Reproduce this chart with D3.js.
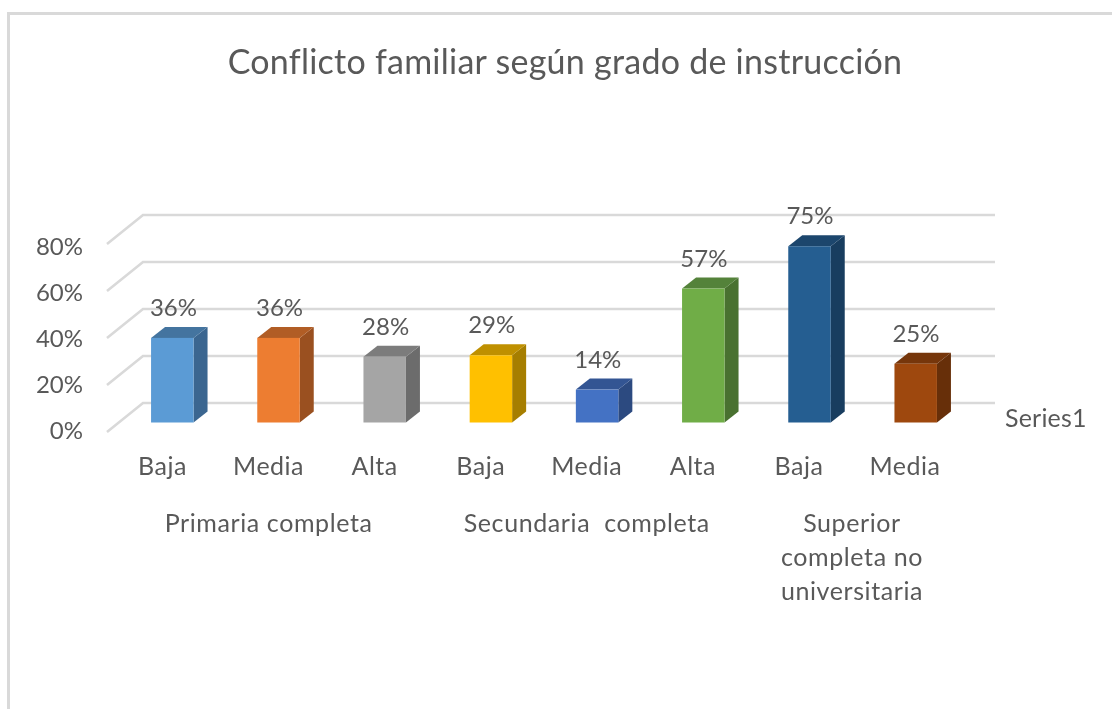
<!DOCTYPE html>
<html><head><meta charset="utf-8">
<script src="https://cdn.jsdelivr.net/npm/d3@7"></script>
<style>
html,body{margin:0;padding:0;background:#fff;overflow:hidden}
svg{display:block;filter:blur(0.45px)}
text{font-family:Lato,Carlito,"Open Sans",sans-serif;fill:#595959}
</style></head><body><svg id="c" width="1112" height="709"></svg>
<script>
const title = "Conflicto familiar según grado de instrucción";
const categories = ["Baja","Media","Alta","Baja","Media","Alta","Baja","Media"];
const values = [0.36,0.36,0.28,0.286,0.14,0.57,0.75,0.25];
const valueLabels = ["36%","36%","28%","29%","14%","57%","75%","25%"];
const frontColors = ["#5b9bd5","#ed7d31","#a5a5a5","#ffc000","#4472c4","#70ad47","#255e91","#9e480e"];
const topColors = ["#44749f","#b15d25","#7c7c7c","#bf9000","#335593","#54823a","#1c466d","#76360b"];
const sideColors = ["#3b6690","#9a5020","#6c6c6c","#a67e00","#2c4a80","#497130","#183d5f","#672f09"];
const groups = [
  {lines:["Primaria completa"], from:0, to:2},
  {lines:["Secundaria  completa"], from:3, to:5},
  {lines:["Superior","completa no","universitaria"], from:6, to:7}
];
const ticks = [0,0.2,0.4,0.6,0.8];
const seriesName = "Series1";

const svg = d3.select("#c");
const gray = "#d9d9d9";

// frame
svg.append("path").attr("d","M8.5,709V13.5H1112").attr("fill","none").attr("stroke",gray).attr("stroke-width",3);

// scales
const domain = [0,0.8];
const yBack = d3.scaleLinear().domain(domain).range([403,215]);
const yFloor = d3.scaleLinear().domain(domain).range([432,244]);
const yBar = d3.scaleLinear().domain(domain).range([422.5,234.5]);
const yLabel = d3.scaleLinear().domain(domain).range([431,247]);
const idx = d3.range(categories.length);
const xBar = d3.scaleBand().domain(idx).range([119.2,968.8]).paddingInner(0.6).paddingOuter(0.3);
const xCat = d3.scalePoint().domain(idx).range([162.5,905]);
const depthX = 14, depthY = 11;

// gridlines
const grid = svg.append("g").attr("fill","none").attr("stroke",gray).attr("stroke-width",2.6);
grid.selectAll("path").data(ticks).join("path")
  .attr("d",t=>`M107,${yFloor(t)}L143,${yBack(t)}H995`);

// y axis labels
const axis = d3.axisLeft(yLabel).tickValues(ticks).tickFormat(d3.format(".0%")).tickSize(0).tickPadding(0);
const ga = svg.append("g").attr("transform","translate(83,0)").call(axis);
ga.select(".domain").remove();
ga.selectAll("text").attr("font-size",24).style("fill","#595959").style("font-family","Lato,Carlito,sans-serif");

// bars
const bars = svg.append("g").selectAll("g").data(idx).join("g");
bars.append("path").attr("fill",i=>sideColors[i]).attr("d",i=>{
  const x=xBar(i)+xBar.bandwidth(), y0=yBar(0), y1=yBar(values[i]);
  return `M${x},${y1}l${depthX},${-depthY}V${y0-depthY}L${x},${y0}Z`;
});
bars.append("path").attr("fill",i=>topColors[i]).attr("d",i=>{
  const x=xBar(i), w=xBar.bandwidth(), y1=yBar(values[i]);
  return `M${x},${y1}l${depthX},${-depthY}h${w}l${-depthX},${depthY}Z`;
});
bars.append("rect").attr("fill",i=>frontColors[i])
  .attr("x",i=>xBar(i)).attr("width",xBar.bandwidth())
  .attr("y",i=>yBar(values[i])).attr("height",i=>yBar(0)-yBar(values[i]));

// value labels
svg.append("g").selectAll("text").data(idx).join("text")
  .attr("x",i=>xCat(i)+11).attr("y",i=>yBar(values[i])-22)
  .attr("text-anchor","middle").attr("font-size",24).text(i=>valueLabels[i]);

// category labels
svg.append("g").selectAll("text").data(idx).join("text")
  .attr("x",i=>xCat(i)).attr("y",475)
  .attr("text-anchor","middle").attr("font-size",25).attr("letter-spacing",0.5).text(i=>categories[i]);

// group labels
const gg = svg.append("g").selectAll("text").data(groups).join("text")
  .attr("text-anchor","middle").attr("font-size",25).attr("letter-spacing",0.6).style("white-space","pre");
gg.each(function(g){
  const cx = g.lines.length>1 ? 852 : (xCat(g.from)+xCat(g.to))/2;
  d3.select(this).selectAll("tspan").data(g.lines).join("tspan")
    .attr("x",cx).attr("y",(d,j)=>532+j*34).text(d=>d);
});

// series + title
svg.append("text").attr("x",1005).attr("y",427).attr("font-size",25).attr("letter-spacing",0.2).text(seriesName);
svg.append("text").attr("x",565).attr("y",74).attr("text-anchor","middle").attr("font-size",34).attr("letter-spacing",0.25).text(title);
</script></body></html>
